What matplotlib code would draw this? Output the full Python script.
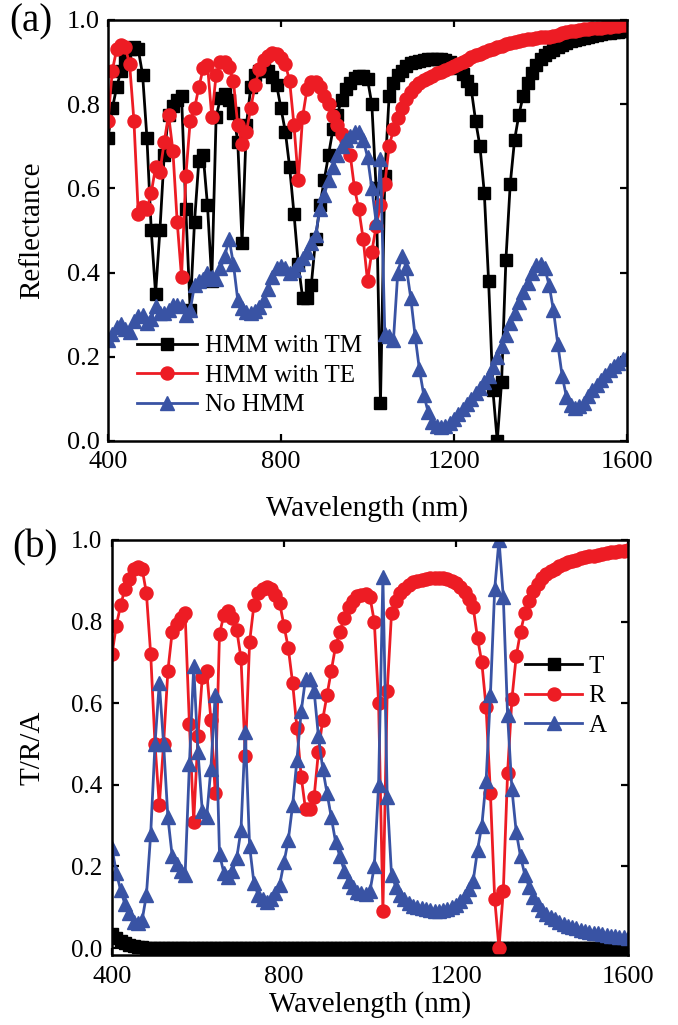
import numpy as np
import matplotlib
matplotlib.use("Agg")
import matplotlib.pyplot as plt

plt.rcParams['font.family'] = ['Liberation Serif', 'DejaVu Serif']
plt.rcParams['mathtext.fontset'] = 'stix'

# ---------------- data ----------------
wavelength = np.arange(400, 1601, 10)

hmm_tm = [0.72, 0.79, 0.84, 0.88, 0.905, 0.93, 0.935, 0.93, 0.87, 0.72,
          0.50, 0.35, 0.50, 0.68, 0.775, 0.795, 0.81, 0.82, 0.55, 0.31,
          0.52, 0.665, 0.68, 0.56, 0.38, 0.77, 0.815, 0.825, 0.81, 0.78,
          0.71, 0.47, 0.75, 0.84, 0.87, 0.88, 0.886, 0.88, 0.865, 0.845,
          0.79, 0.735, 0.65, 0.54, 0.42, 0.34, 0.34, 0.37, 0.48, 0.56,
          0.62, 0.68, 0.74, 0.775, 0.81, 0.835, 0.85, 0.862, 0.866, 0.868,
          0.86, 0.80, 0.60, 0.09, 0.63, 0.82, 0.85, 0.87, 0.88, 0.89,
          0.897, 0.90, 0.903, 0.905, 0.907, 0.908, 0.908, 0.907, 0.904, 0.90,
          0.894, 0.885, 0.872, 0.855, 0.835, 0.76, 0.70, 0.59, 0.38, 0.12,
          0.0, 0.14, 0.43, 0.61, 0.715, 0.775, 0.82, 0.85, 0.875, 0.893,
          0.907, 0.916, 0.923, 0.929, 0.937, 0.941, 0.945, 0.949, 0.952, 0.955,
          0.958, 0.96, 0.962, 0.964, 0.966, 0.968, 0.97, 0.971, 0.972, 0.974,
          0.975]

hmm_te = [0.76, 0.88, 0.93, 0.94, 0.935, 0.895, 0.76, 0.54, 0.555, 0.55,
          0.59, 0.65, 0.64, 0.71, 0.775, 0.69, 0.52, 0.39, 0.63, 0.76,
          0.79, 0.84, 0.885, 0.893, 0.77, 0.87, 0.90, 0.90, 0.888, 0.855,
          0.75, 0.705, 0.735, 0.79, 0.845, 0.883, 0.905, 0.915, 0.921, 0.92,
          0.91, 0.895, 0.855, 0.75, 0.62, 0.77, 0.835, 0.852, 0.852, 0.842,
          0.82, 0.80, 0.772, 0.75, 0.73, 0.715, 0.68, 0.60, 0.55, 0.48,
          0.38, 0.45, 0.51, 0.56, 0.61, 0.70, 0.74, 0.768, 0.79, 0.812,
          0.83, 0.842, 0.85, 0.857, 0.862, 0.867, 0.873, 0.877, 0.881, 0.885,
          0.89, 0.895, 0.90, 0.906, 0.911, 0.916, 0.92, 0.924, 0.928, 0.932,
          0.936, 0.939, 0.942, 0.945, 0.948, 0.95, 0.952, 0.954, 0.956, 0.958,
          0.959, 0.96, 0.96, 0.961, 0.965, 0.968, 0.971, 0.973, 0.975, 0.977,
          0.978, 0.979, 0.98, 0.981, 0.982, 0.983, 0.984, 0.985, 0.986, 0.987,
          0.988]

no_hmm = [0.24, 0.255, 0.27, 0.278, 0.265, 0.26, 0.285, 0.297, 0.30, 0.28,
          0.29, 0.32, 0.305, 0.305, 0.312, 0.322, 0.323, 0.32, 0.30, 0.31,
          0.37, 0.38, 0.385, 0.40, 0.39, 0.385, 0.41, 0.44, 0.48, 0.42,
          0.335, 0.315, 0.307, 0.305, 0.308, 0.318, 0.335, 0.36, 0.39, 0.41,
          0.415, 0.41, 0.40, 0.405, 0.42, 0.435, 0.45, 0.47, 0.49, 0.55,
          0.585, 0.62, 0.65, 0.68, 0.70, 0.715, 0.725, 0.733, 0.733, 0.715,
          0.675, 0.60, 0.52, 0.67, 0.255, 0.25, 0.24, 0.40, 0.44, 0.41,
          0.34, 0.25, 0.17, 0.11, 0.07, 0.045, 0.035, 0.033, 0.035, 0.042,
          0.052, 0.065, 0.077, 0.088, 0.10, 0.115, 0.127, 0.14, 0.155, 0.175,
          0.20, 0.225, 0.252, 0.28, 0.305, 0.33, 0.355, 0.375, 0.40, 0.418,
          0.42, 0.41, 0.37, 0.31, 0.23, 0.155, 0.105, 0.085, 0.078, 0.082,
          0.09, 0.107, 0.12, 0.133, 0.145, 0.157, 0.168, 0.178, 0.186, 0.194,
          0.20]

trans_T = [0.035, 0.025, 0.018, 0.012, 0.008, 0.005, 0.003, 0.002, 0.001, 0.0,
           0.0, 0.0, 0.0, 0.0, 0.0, 0.0, 0.0, 0.0, 0.0, 0.0,
           0.0, 0.0, 0.0, 0.0, 0.0, 0.0, 0.0, 0.0, 0.0, 0.0,
           0.0, 0.0, 0.0, 0.0, 0.0, 0.0, 0.0, 0.0, 0.0, 0.0,
           0.0, 0.0, 0.0, 0.0, 0.0, 0.0, 0.0, 0.0, 0.0, 0.0,
           0.0, 0.0, 0.0, 0.0, 0.0, 0.0, 0.0, 0.0, 0.0, 0.0,
           0.0, 0.0, 0.0, 0.0, 0.0, 0.0, 0.0, 0.0, 0.0, 0.0,
           0.0, 0.0, 0.0, 0.0, 0.0, 0.0, 0.0, 0.0, 0.0, 0.0,
           0.0, 0.0, 0.0, 0.0, 0.0, 0.0, 0.0, 0.0, 0.0, 0.0,
           0.0, 0.0, 0.0, 0.0, 0.0, 0.0, 0.0, 0.0, 0.0, 0.0,
           0.0, 0.0, 0.0, 0.0, 0.0, 0.0, 0.0, 0.0, 0.0, 0.0,
           0.0, 0.0, 0.0, 0.0, 0.0, 0.0, 0.0, 0.0, 0.0, 0.0,
           0.0]

absorb_A = [0.245, 0.185, 0.142, 0.108, 0.087, 0.065, 0.062, 0.068, 0.13, 0.28,
            0.50, 0.65, 0.50, 0.32, 0.225, 0.205, 0.19, 0.18, 0.45, 0.69,
            0.48, 0.335, 0.32, 0.44, 0.62, 0.23, 0.185, 0.175, 0.19, 0.22,
            0.29, 0.53, 0.25, 0.16, 0.13, 0.12, 0.114, 0.12, 0.135, 0.155,
            0.21, 0.265, 0.35, 0.46, 0.58, 0.66, 0.66, 0.63, 0.52, 0.44,
            0.38, 0.32, 0.26, 0.225, 0.19, 0.165, 0.15, 0.138, 0.134, 0.132,
            0.14, 0.20, 0.40, 0.91, 0.37, 0.18, 0.15, 0.13, 0.12, 0.11,
            0.103, 0.10, 0.097, 0.095, 0.093, 0.092, 0.092, 0.093, 0.096, 0.10,
            0.106, 0.115, 0.128, 0.145, 0.165, 0.24, 0.30, 0.41, 0.62, 0.88,
            1.0, 0.86, 0.57, 0.39, 0.285, 0.225, 0.18, 0.15, 0.125, 0.107,
            0.093, 0.084, 0.077, 0.071, 0.063, 0.059, 0.055, 0.051, 0.048, 0.045,
            0.042, 0.04, 0.038, 0.036, 0.034, 0.032, 0.03, 0.029, 0.028, 0.026,
            0.025]

x_ticks = [400, 800, 1200, 1600]
y_ticks = [0.0, 0.2, 0.4, 0.6, 0.8, 1.0]

BLACK = '#000000'
RED = '#ED1C24'
BLUE = '#3953A4'

fig = plt.figure(figsize=(6.78, 10.25), dpi=100)
W, H = 678.0, 1025.0

def axes_px(l, t, r, b):
    return fig.add_axes([l / W, 1 - b / H, (r - l) / W, (b - t) / H])

ax1 = axes_px(108, 20, 627, 441)
ax2 = axes_px(112, 540, 628, 955)

lw = 2.0
kw_sq = dict(color=BLACK, marker='s', markersize=8.2, lw=lw)
kw_ci = dict(color=RED, marker='o', markersize=9.4, lw=lw)
kw_tr = dict(color=BLUE, marker='^', markersize=10.0, lw=lw)

ax1.plot(wavelength, hmm_tm, label='HMM with TM', **kw_sq)
ax1.plot(wavelength, hmm_te, label='HMM with TE', **kw_ci)
ax1.plot(wavelength, no_hmm, label='No HMM', **kw_tr)

ax2.plot(wavelength, trans_T, label='T', **kw_sq)
ax2.plot(wavelength, hmm_tm, label='R', **kw_ci)
ax2.plot(wavelength, absorb_A, label='A', **kw_tr)

for ax, ylim, tfs, pad in [(ax1, (0, 1.0), 19, 6), (ax2, (-0.017, 1.0), 18, 7)]:
    ax.set_xlim(400, 1600)
    ax.set_ylim(*ylim)
    ax.set_xticks(x_ticks)
    ax.set_yticks(y_ticks)
    ax.set_yticklabels(['%.1f' % v for v in y_ticks])
    ax.tick_params(direction='in', length=5, width=1.6, top=True, right=True,
                   labelsize=tfs, pad=pad)
    ax.tick_params(axis='x', labelsize=19, pad=pad + 1)
    for s in ax.spines.values():
        s.set_linewidth(1.8)

ax1.set_xlabel('Wavelength (nm)', fontsize=21)
ax1.set_ylabel('Reflectance', fontsize=21)
ax1.xaxis.set_label_coords(0.5, -0.128)
ax1.yaxis.set_label_coords(-0.121, 0.5)

ax2.set_xlabel('Wavelength (nm)', fontsize=21)
ax2.set_ylabel('T/R/A', fontsize=21)
ax2.xaxis.set_label_coords(0.5, -0.086)
ax2.yaxis.set_label_coords(-0.128, 0.5)

leg1 = ax1.legend(loc='upper left', bbox_to_anchor=(0.056, 0.252), frameon=False,
                  fontsize=18, handlelength=2.4, handletextpad=0.3,
                  labelspacing=0.28, borderpad=0, borderaxespad=0, numpoints=1)
leg2 = ax2.legend(loc='upper left', bbox_to_anchor=(0.80, 0.722), frameon=False,
                  fontsize=18, handlelength=2.3, handletextpad=0.25,
                  labelspacing=0.28, borderpad=0, borderaxespad=0, numpoints=1)

fig.text(31 / W, 1 - 22 / H, '(a)', fontsize=28, ha='center', va='center')
fig.text(35 / W, 1 - 548 / H, '(b)', fontsize=28, ha='center', va='center')

fig.savefig('out.png', dpi=100)
